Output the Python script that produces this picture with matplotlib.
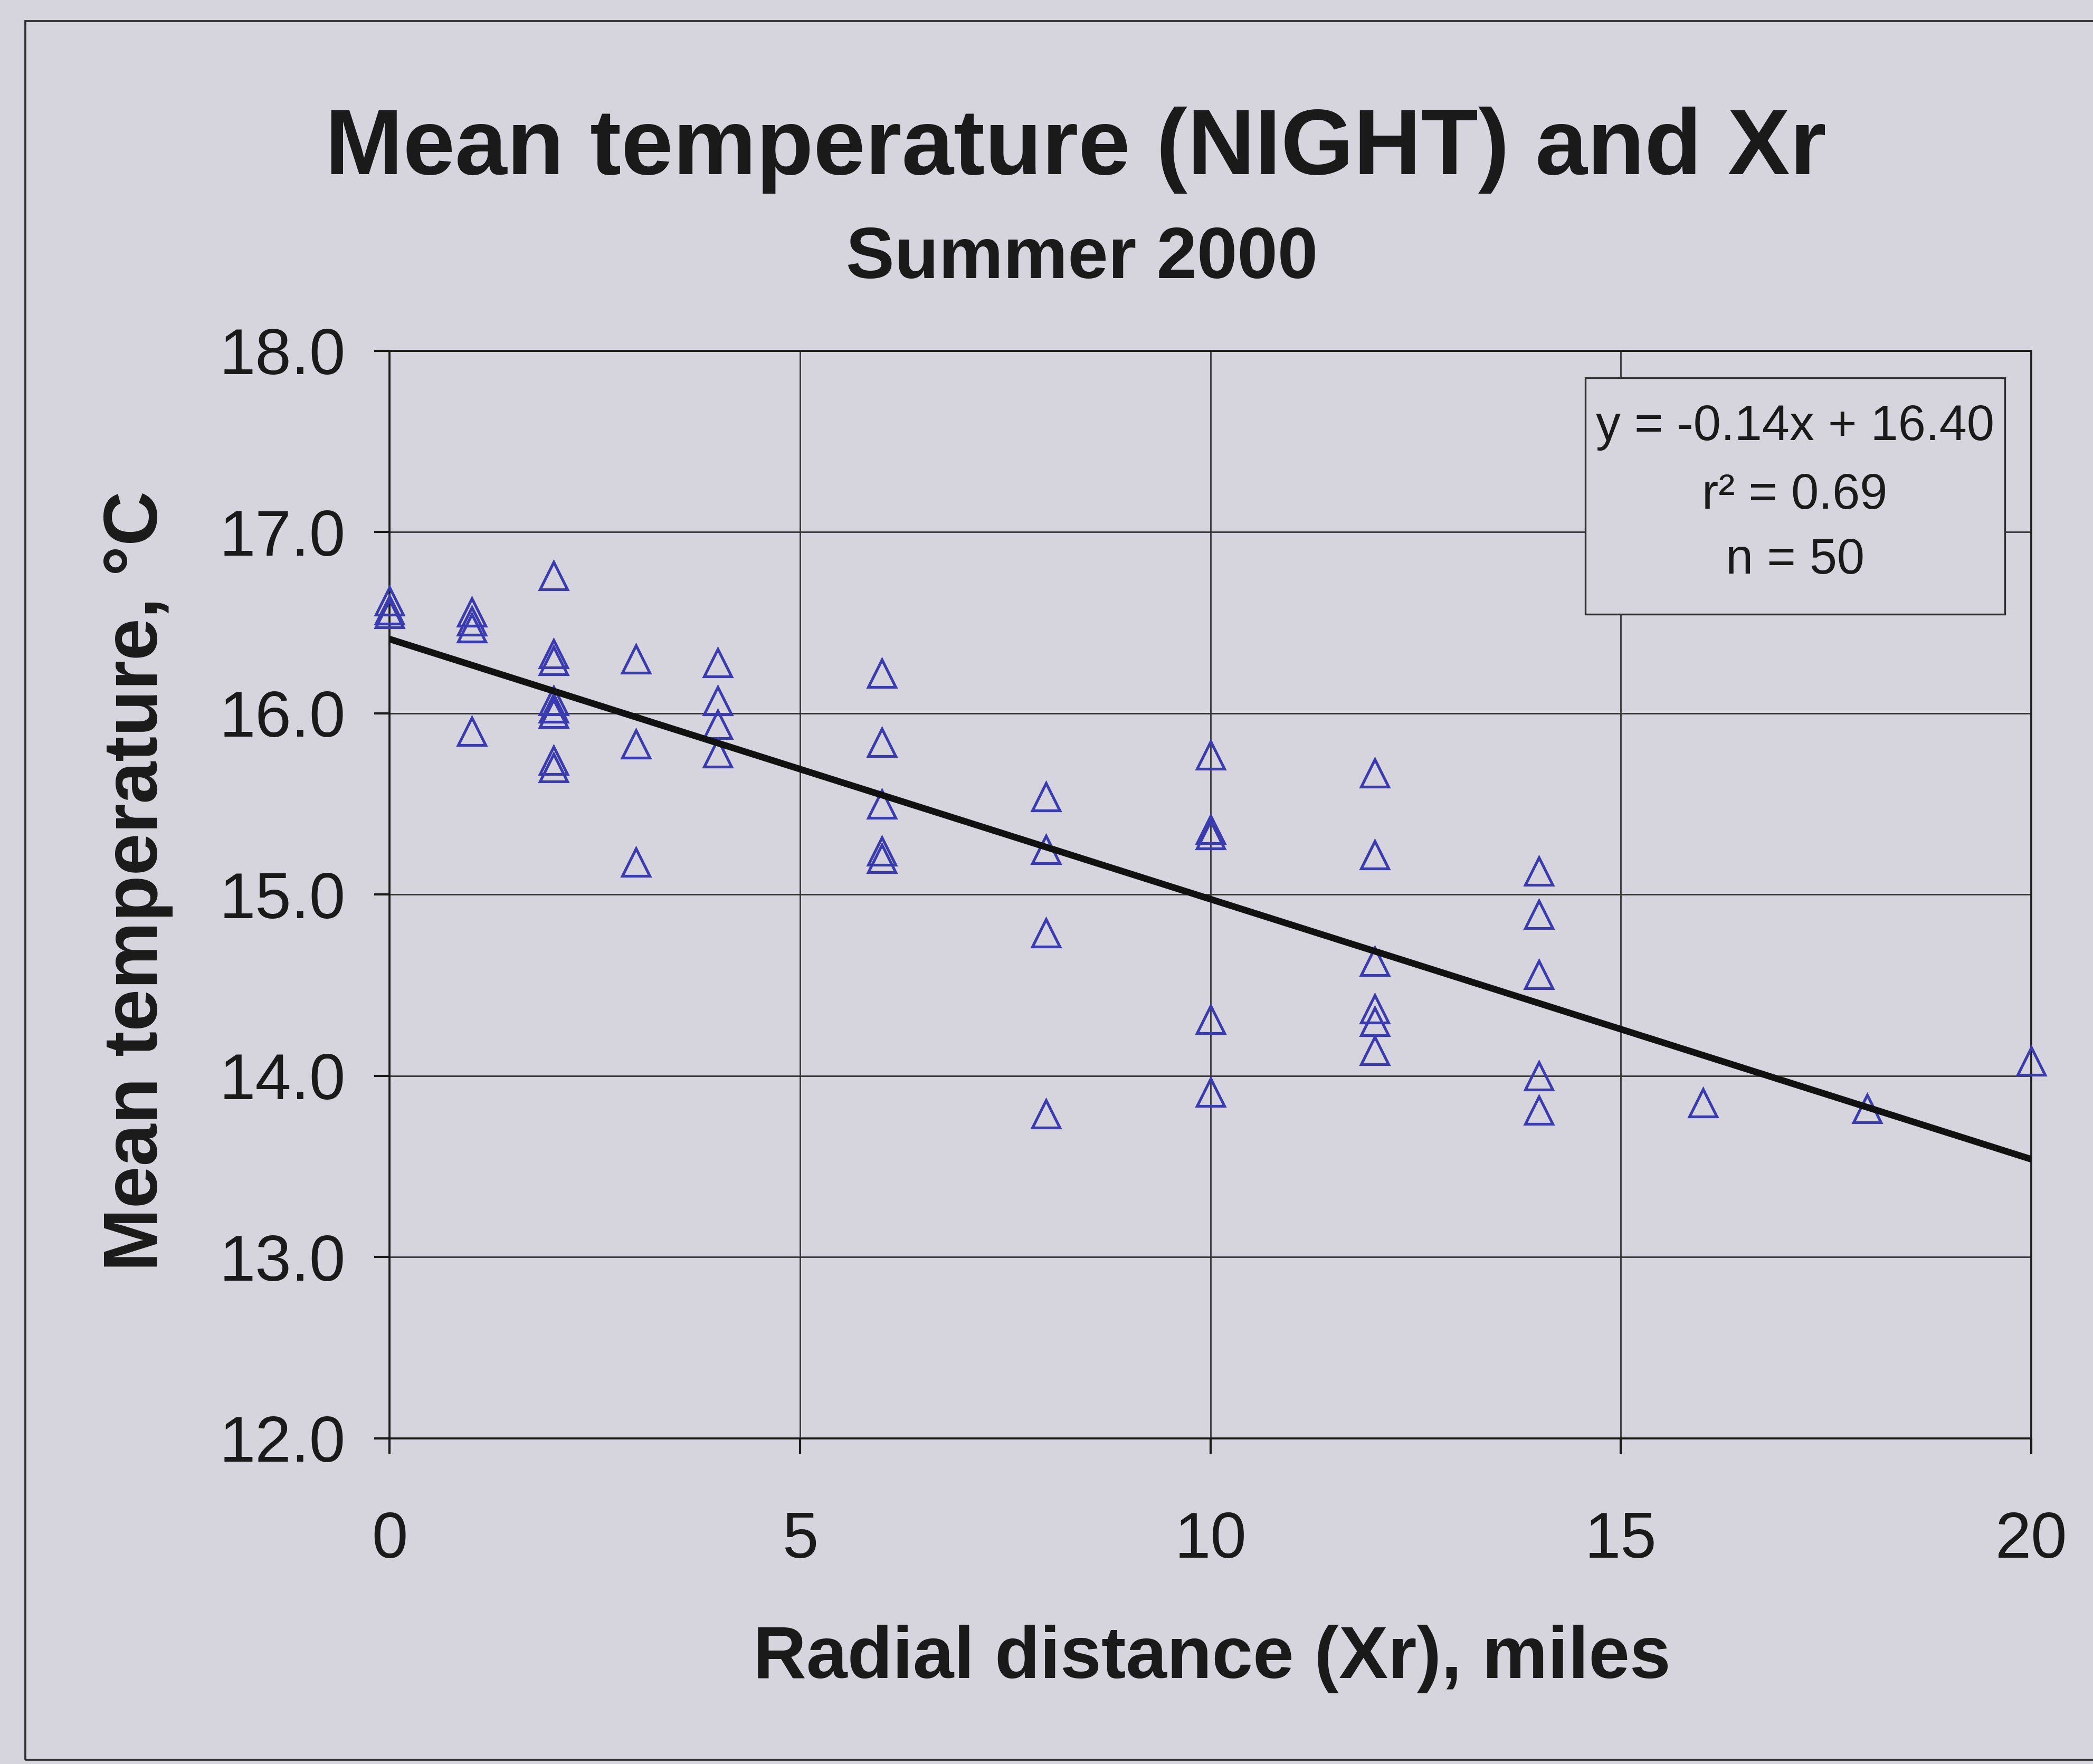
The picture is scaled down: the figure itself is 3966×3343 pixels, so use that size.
import matplotlib
matplotlib.use("Agg")
import matplotlib.pyplot as plt
from matplotlib.patches import Rectangle
import numpy as np

plt.rcParams['font.family'] = ['Liberation Sans', 'DejaVu Sans']

# ---- data ----
xr_miles = [0, 0, 0,
            1, 1, 1, 1,
            2, 2, 2, 2, 2, 2, 2, 2,
            3, 3, 3,
            4, 4, 4, 4,
            6, 6, 6, 6, 6,
            8, 8, 8, 8,
            10, 10, 10, 10, 10,
            12, 12, 12, 12, 12, 12,
            14, 14, 14, 14, 14,
            16, 18, 20]
mean_temp = [16.62, 16.57, 16.55,
             16.56, 16.51, 16.47, 15.90,
             16.76, 16.33, 16.29, 16.07, 16.03, 16.00, 15.74, 15.70,
             16.30, 15.83, 15.18,
             16.28, 16.07, 15.94, 15.78,
             16.22, 15.84, 15.50, 15.24, 15.20,
             15.54, 15.25, 14.79, 13.79,
             15.77, 15.36, 15.33, 14.31, 13.91,
             15.67, 15.22, 14.63, 14.37, 14.30, 14.14,
             15.13, 14.89, 14.56, 14.00, 13.81,
             13.85, 13.82, 14.08]
fit_slope = -0.1435
fit_intercept = 16.41
fit_x = [0, 20]
x_ticks = [0, 5, 10, 15, 20]
y_ticks = [12.0, 13.0, 14.0, 15.0, 16.0, 17.0, 18.0]
stats_lines = ["y = -0.14x + 16.40", "r\u00b2 = 0.69", "n = 50"]

bg = '#d6d5dd'
fig = plt.figure(figsize=(3966/300, 3343/300), dpi=300, facecolor=bg)

# chart-area border
fig.patches.append(Rectangle((48/3966, 8/3343), 1.0, 1 - 48/3343,
                             transform=fig.transFigure, fill=False,
                             edgecolor='#303030', linewidth=0.9, zorder=0))

ax = fig.add_axes([0.1861, 0.1846, 0.9705 - 0.1861, 0.8011 - 0.1846])
ax.set_facecolor(bg)

ax.set_xlim(0, 20)
ax.set_ylim(12, 18)
ax.set_xticks(x_ticks)
ax.set_yticks(y_ticks)
ax.set_yticklabels([f"{v:.1f}" for v in y_ticks])
ax.grid(True, color='#303030', linewidth=0.65)
ax.set_axisbelow(True)
for s in ax.spines.values():
    s.set_color('#1a1a1a')
    s.set_linewidth(0.9)
ax.tick_params(axis='both', direction='out', length=7, width=1.0,
               color='#1a1a1a', labelsize=29.5, labelcolor='#1a1a1a')
ax.tick_params(axis='x', pad=26)
ax.tick_params(axis='y', pad=13)

ax.plot(xr_miles, mean_temp, linestyle='none', marker='^', markersize=12.5,
        markerfacecolor='none', markeredgecolor='#3b3bb0', markeredgewidth=1.25,
        clip_on=False, zorder=3)

fx = np.array(fit_x, dtype=float)
ax.plot(fx, fit_slope * fx + fit_intercept, color='#111111', linewidth=3.0, zorder=4)

# stats box
ax.add_patch(Rectangle((0.7284, 0.758), 0.984 - 0.7284, 0.975 - 0.758,
                       transform=ax.transAxes, facecolor=bg,
                       edgecolor='#303030', linewidth=0.8, zorder=5))
for line, yy in zip(stats_lines, [0.930, 0.867, 0.807]):
    ax.text(0.856, yy, line, transform=ax.transAxes, ha='center', va='center',
            fontsize=22.5, color='#1a1a1a', zorder=6)

fig.text(0.514, 0.915, "Mean temperature (NIGHT) and Xr", ha='center', va='center',
         fontsize=42.5, fontweight='bold', color='#1a1a1a')
fig.text(0.517, 0.853, "Summer 2000", ha='center', va='center',
         fontsize=33, fontweight='bold', color='#1a1a1a')
fig.text(0.579, 0.0595, "Radial distance (Xr), miles", ha='center', va='center',
         fontsize=33.5, fontweight='bold', color='#1a1a1a')
fig.text(0.0656, 0.5007, "Mean temperature, \u00b0C", ha='center', va='center',
         rotation=90, fontsize=34.5, fontweight='bold', color='#1a1a1a')

fig.savefig("out.png", dpi=300, facecolor=bg)
